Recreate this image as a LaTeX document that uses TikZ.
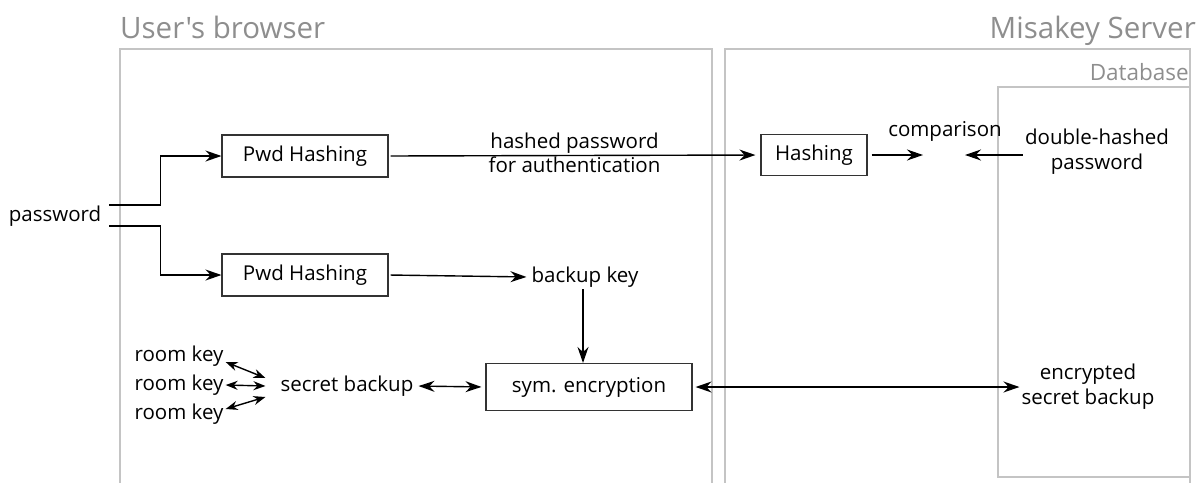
\documentclass[tikz,border=0pt]{standalone}
\usepackage{fontspec}
\setmainfont{Open Sans}
\newfontfamily\titlefont{Open Sans}
\usetikzlibrary{arrows.meta, positioning}
\definecolor{zonegray}{HTML}{C4C4C4}
\definecolor{titlegray}{HTML}{8E8E8E}
\newcommand{\diagfont}{\fontsize{20.5}{25}\selectfont}
\tikzset{
    zone/.style={draw=zonegray, line width=1.5pt},
    zonetitle/.style={text=titlegray, font=\titlefont\fontsize{29.5}{34}\selectfont, inner sep=0pt},
    dbtitle/.style={text=titlegray, font=\fontsize{22.5}{26}\selectfont, inner sep=0pt},
    hashbox/.style={rectangle, draw=black!80, line width=1.1pt, minimum width=166pt, minimum height=42pt, align=center, font=\diagfont},
    txt/.style={align=center, font=\diagfont, inner sep=2pt},
    arrow/.style={line width=1.4pt, -{Stealth[length=16pt,width=11pt]}},
    dblarrow/.style={line width=1.4pt, {Stealth[length=16pt,width=11pt]}-{Stealth[length=16pt,width=11pt]}},
    keyarrow/.style={line width=1.4pt, {Stealth[length=12pt,width=9pt]}-{Stealth[length=12pt,width=9pt]}}
}
\begin{document}
\begin{tikzpicture}[x=1pt, y=-1pt]
    \clip (0,0) rectangle (1204,482);
    % zones
    \draw[zone] (120,49) rectangle (712,500);
    \draw[zone] (725,49) rectangle (1190,500);
    \draw[zone] (998,87) rectangle (1190,477);
    \node (browser) [zonetitle, anchor=base west] at (120,38) {User's browser};
    \node (server) [zonetitle, anchor=base east] at (1196,38) {Misakey Server};
    \node (db) [dbtitle, anchor=base east] at (1189,80) {Database};

    \node (pwd) [txt] at (55,216) {password};
    \node (hash1) [hashbox] at (305,156) {Pwd Hashing};
    \node (hash2) [hashbox] at (305,275) {Pwd Hashing};
    \node (srvhash) [hashbox, minimum width=106pt, minimum height=41pt] at (814,155) {Hashing};
    \node (cmp) [txt] at (945,131) {comparison};
    \coordinate (cmpL) at (923,155);
    \coordinate (cmpR) at (965,155);
    \node (dbl) [txt] at (1097,152) {double-hashed\\password};
    \node (bkey) [txt] at (585,277) {backup key};
    \node (sym) [hashbox, minimum width=206pt, minimum height=47pt] at (589,387) {sym. encryption};
    \node (secret) [txt] at (347,386) {secret backup};
    \node (encsec) [txt] at (1088,387) {encrypted\\secret backup};
    \node (rk1) [txt] at (179,356) {room key};
    \node (rk2) [txt] at (179,385) {room key};
    \node (rk3) [txt] at (179,414) {room key};

    \draw [arrow] ([shift={(6pt,11pt)}]pwd.east) -- ++(51,0) |- (hash1.west);
    \draw [arrow] ([shift={(6pt,-10pt)}]pwd.east) -- ++(51,0) |- (hash2.west);
    \draw [arrow, shorten <=2pt, shorten >=5pt] (hash1.east) -- (srvhash.west)
        node[txt, midway, above, yshift=-1pt] {hashed password}
        node[txt, midway, below, yshift=1pt] {for authentication};
    \draw [arrow, shorten <=4pt] (srvhash.east) -- (cmpL);
    \draw [arrow] (dbl.west |- cmpR) -- (cmpR);
    \draw [arrow, shorten <=2pt, shorten >=3pt] (hash2.east) -- (bkey.west);
    \draw [arrow] ([xshift=-2pt]bkey.south) -- ([xshift=-2pt]bkey.south |- sym.north);
    \draw [dblarrow, shorten <=3pt, shorten >=4pt] (secret.east) -- (sym.west);
    \draw [dblarrow, shorten <=3pt] (sym.east) -- (encsec.west);
    \draw [keyarrow] ([yshift=-6pt]rk1.east) -- ([shift={(-13pt,8pt)}]secret.west);
    \draw [keyarrow] (rk2.east) -- ([xshift=-13pt]secret.west);
    \draw [keyarrow] ([yshift=5pt]rk3.east) -- ([shift={(-13pt,-11pt)}]secret.west);
\end{tikzpicture}
\end{document}
